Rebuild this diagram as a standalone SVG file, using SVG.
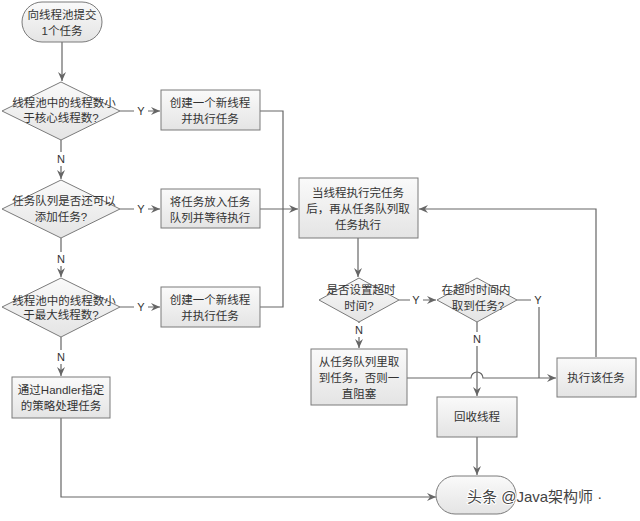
<svg xmlns="http://www.w3.org/2000/svg" width="640" height="521" viewBox="0 0 640 521">
<defs>
<linearGradient id="g" x1="0" y1="0" x2="0" y2="1"><stop offset="0" stop-color="#fafafa"/><stop offset="1" stop-color="#e4e4e4"/></linearGradient>
<marker id="a" markerWidth="10" markerHeight="8" refX="9" refY="4" orient="auto" markerUnits="userSpaceOnUse"><path d="M0,0 L9,4 L0,8 L3,4 Z" fill="#666"/></marker>
<style>
.s{fill:url(#g);stroke:#7a7a7a;stroke-width:1}
.t{font-family:"Liberation Sans","Noto Sans CJK SC",sans-serif;font-size:11.5px;fill:#333;text-anchor:middle}
.l{font-family:"Liberation Sans","Noto Sans CJK SC",sans-serif;font-size:11px;fill:#333;text-anchor:middle}
.c{fill:none;stroke:#666;stroke-width:1.2}
</style>
</defs>
<rect width="640" height="521" fill="#fff"/>
<g id="connectors">
<path class="c" d="M62,42 V81" marker-end="url(#a)"/>
<path class="c" d="M120,111 H134 M148,111 H160" marker-end="url(#a)"/>
<path class="c" d="M61,140 V152 M61,166 V179" marker-end="url(#a)"/>
<path class="c" d="M120,209 H134 M148,209 H160" marker-end="url(#a)"/>
<path class="c" d="M61,238 V252 M61,266 V277" marker-end="url(#a)"/>
<path class="c" d="M120,307 H134 M148,307 H160" marker-end="url(#a)"/>
<path class="c" d="M61,337 V350 M61,364 V376" marker-end="url(#a)"/>
<path class="c" d="M260,111 H283 V307 H260"/>
<path class="c" d="M260,209 H298" marker-end="url(#a)"/>
<path class="c" d="M61,418 V497 H436" marker-end="url(#a)"/>
<path class="c" d="M358,238 V277" marker-end="url(#a)"/>
<path class="c" d="M399,300 H410 M423,300 H436" marker-end="url(#a)"/>
<path class="c" d="M517,300 H531 M539,307 V378"/>
<path class="c" d="M359,322 V323 M359,337 V348" marker-end="url(#a)"/>
<path class="c" d="M477,322 V332 M477,346 V396" marker-end="url(#a)"/>
<path class="c" d="M407,378 H471 A6,6 0 0 1 483,378 H556" marker-end="url(#a)"/>
<path class="c" d="M596,357 V209 H419" marker-end="url(#a)"/>
<path class="c" d="M477,437 V475" marker-end="url(#a)"/>
</g>
<g class="l">
<text x="141" y="115">Y</text>
<text x="61" y="163">N</text>
<text x="141" y="213">Y</text>
<text x="61" y="263">N</text>
<text x="141" y="311">Y</text>
<text x="61" y="361">N</text>
<text x="416" y="304">Y</text>
<text x="538" y="304">Y</text>
<text x="359" y="334">N</text>
<text x="477" y="343">N</text>
</g>
<g id="start"><rect class="s" x="22" y="2" width="80" height="40" rx="20"/><text class="t" x="62" y="19">向线程池提交</text><text class="t" x="62" y="35">1个任务</text></g>
<g id="d1"><polygon class="s" points="2,111 61,82 120,111 61,140"/><text class="t" x="64" y="107">线程池中的线程数小</text><text class="t" x="61" y="122">于核心线程数?</text></g>
<g id="b1"><rect class="s" x="161" y="90" width="99" height="40"/><text class="t" x="210" y="107">创建一个新线程</text><text class="t" x="210" y="123">并执行任务</text></g>
<g id="d2"><polygon class="s" points="2,209 61,180 120,209 61,238"/><text class="t" x="64" y="205">任务队列是否还可以</text><text class="t" x="61" y="221">添加任务?</text></g>
<g id="b2"><rect class="s" x="161" y="189" width="99" height="39"/><text class="t" x="210" y="206">将任务放入任务</text><text class="t" x="210" y="222">队列并等待执行</text></g>
<g id="d3"><polygon class="s" points="2,307 61,278 120,307 61,337"/><text class="t" x="64" y="305">线程池中的线程数小</text><text class="t" x="61" y="319">于最大线程数?</text></g>
<g id="b3"><rect class="s" x="161" y="287" width="99" height="40"/><text class="t" x="210" y="304">创建一个新线程</text><text class="t" x="210" y="320">并执行任务</text></g>
<g id="handler"><rect class="s" x="12" y="377" width="98" height="41"/><text class="t" x="61" y="394">通过Handler指定</text><text class="t" x="61" y="410">的策略处理任务</text></g>
<g id="worker"><rect class="s" x="299" y="178" width="119" height="60"/><text class="t" x="358" y="197">当线程执行完任务</text><text class="t" x="358" y="213">后，再从任务队列取</text><text class="t" x="358" y="229">任务执行</text></g>
<g id="d4"><polygon class="s" points="319,300 359,278 399,300 359,322"/><text class="t" x="361" y="294">是否设置超时</text><text class="t" x="359" y="310">时间?</text></g>
<g id="d5"><polygon class="s" points="437,300 477,278 517,300 477,322"/><text class="t" x="476" y="294">在超时时间内</text><text class="t" x="478" y="310">取到任务?</text></g>
<g id="block"><rect class="s" x="311" y="349" width="96" height="56"/><text class="t" x="359" y="366">从任务队列里取</text><text class="t" x="359" y="382">到任务，否则一</text><text class="t" x="359" y="398">直阻塞</text></g>
<g id="exec"><rect class="s" x="557" y="358" width="79" height="39"/><text class="t" x="596" y="382">执行该任务</text></g>
<g id="recycle"><rect class="s" x="437" y="397" width="80" height="40"/><text class="t" x="477" y="421">回收线程</text></g>
<g id="end"><rect class="s" x="436" y="476" width="80" height="38" rx="19"/></g>
<text x="467" y="502" font-family="'Liberation Sans','Noto Sans CJK SC',sans-serif" font-size="15" fill="#444" stroke="#fff" stroke-width="2" paint-order="stroke">头条 @Java架构师 ·</text>
</svg>
